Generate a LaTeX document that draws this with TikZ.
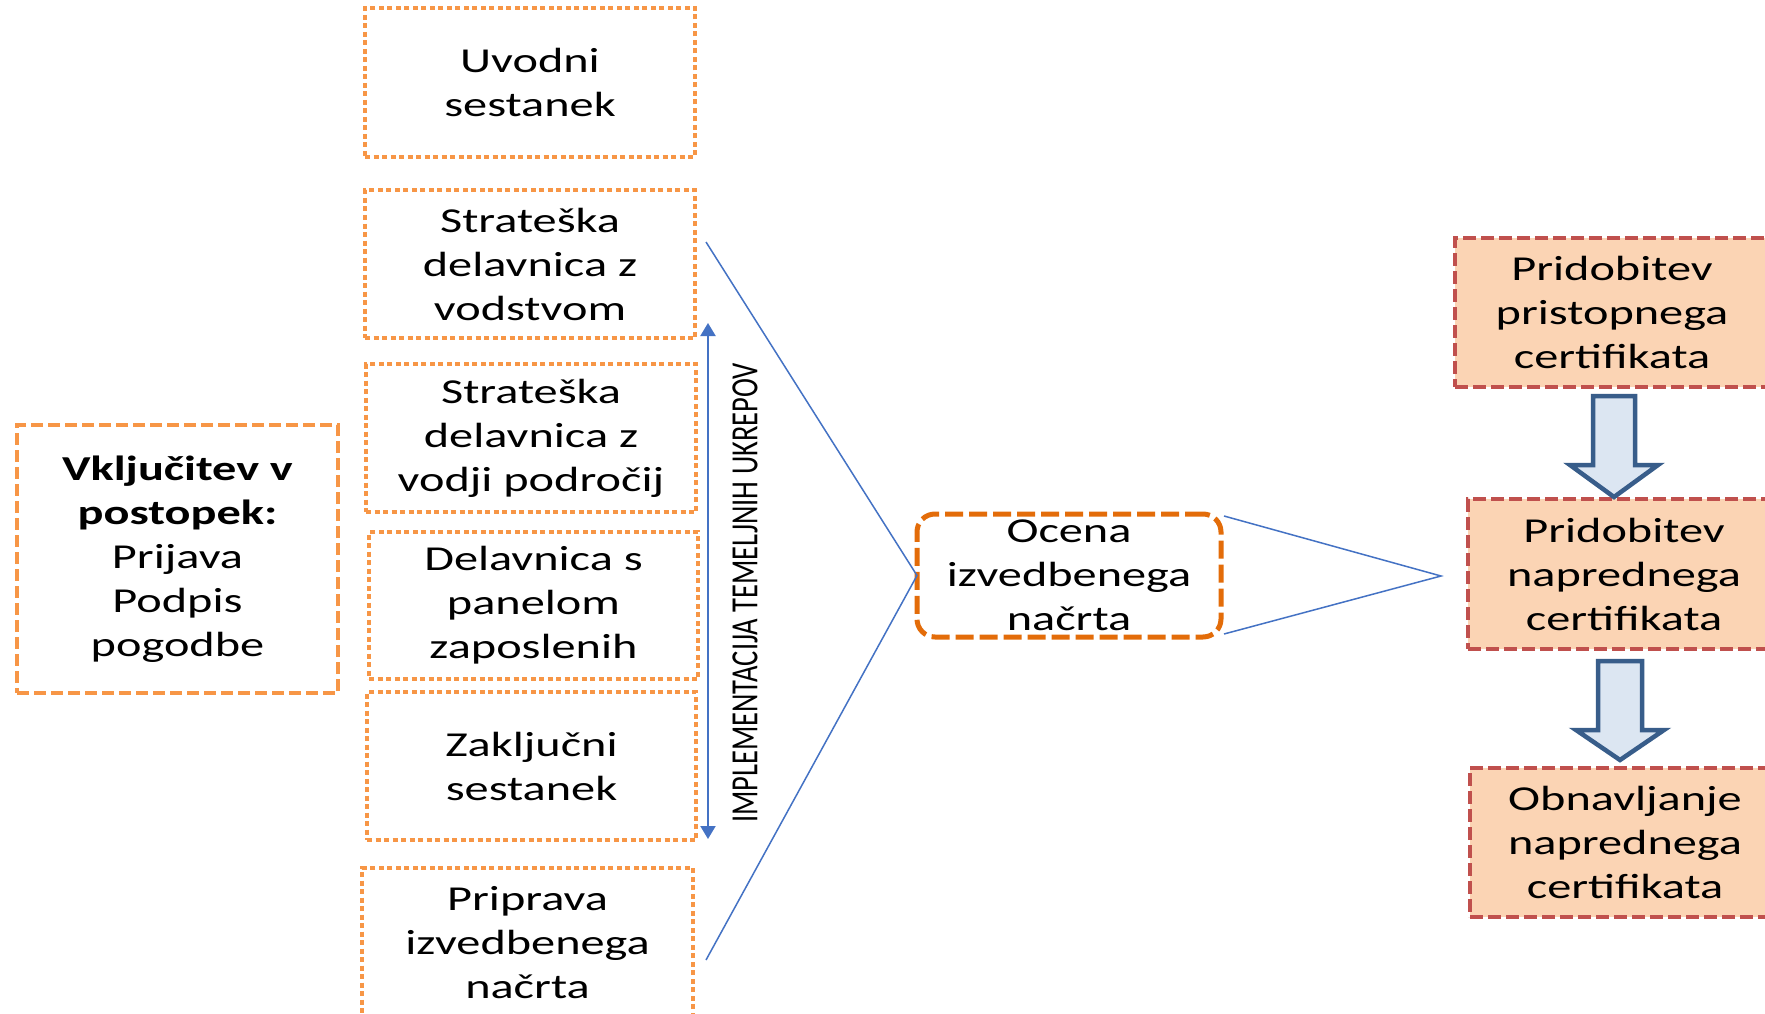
\documentclass[tikz,border=0pt]{standalone}
\usepackage{fontspec}
\usepackage{graphicx}
\setmainfont[FakeStretch=1.38]{Carlito}
\newfontfamily\plainfont{Carlito}
\usetikzlibrary{arrows.meta}
\definecolor{orng}{HTML}{F79646}
\definecolor{dorng}{HTML}{E36C09}
\definecolor{lblue}{HTML}{4472C4}
\definecolor{rred}{HTML}{C0504D}
\definecolor{peach}{HTML}{FBD4B4}
\definecolor{abfill}{HTML}{DCE6F2}
\definecolor{abline}{HTML}{385D8A}
\begin{document}
\begin{tikzpicture}[x=1pt,y=-1pt,
  txt/.style={font=\fontsize{35}{44}\selectfont, align=center, inner sep=0pt, outer sep=0pt, text=black},
  dotbox/.style={txt, draw=orng, line width=4.5pt, dash pattern=on 5pt off 3.5pt},
  dashbox/.style={txt, draw=orng, line width=4pt, dash pattern=on 12pt off 5pt},
  evalbox/.style={txt, draw=dorng, line width=5pt, dash pattern=on 18pt off 6pt, rounded corners=18pt},
  certbox/.style={txt, draw=rred, fill=peach, line width=3.5pt, dash pattern=on 13pt off 5pt},
  conn/.style={draw=lblue, line width=1.5pt},
  blockarrow/.style={draw=abline, fill=abfill, line width=4.5pt, line join=miter},
]
\fill[white] (0,0) rectangle (1765,1014);
\useasboundingbox (0,0) rectangle (1765,1014);
\clip (0,0) rectangle (1765,1014);

% left box
\node[dashbox, minimum width=321, minimum height=268] (L) at (177.5,559)
  {\textbf{Vključitev v}\\\textbf{postopek:}\\Prijava\\Podpis\\pogodbe};

% middle column
\node[dotbox, minimum width=330, minimum height=149] (b1) at (530,82.5) {Uvodni\\sestanek};
\node[dotbox, minimum width=330, minimum height=148] (b2) at (530,264) {Strateška\\delavnica z\\vodstvom};
\node[dotbox, minimum width=330, minimum height=148] (b3) at (531,438) {Strateška\\delavnica z\\vodji področij};
\node[dotbox, minimum width=329, minimum height=147] (b4) at (533.5,605.5) {Delavnica s\\panelom\\zaposlenih};
\node[dotbox, minimum width=329, minimum height=148] (b5) at (531.5,766) {Zaključni\\sestanek};
\node[dotbox, minimum width=331, minimum height=150] (b6) at (527.5,943) {Priprava\\izvedbenega\\načrta};

% implementation arrow and label
\coordinate (ia) at (708,323);
\coordinate (ib) at (708,839);
\draw[lblue, line width=2pt, {Triangle[length=13pt,width=15pt]}-{Triangle[length=13pt,width=15pt]}] (ia) -- (ib);
\node[inner sep=0pt, rotate=90, text=black] (impl) at (745,593)
  {\plainfont\fontsize{28.5}{32}\selectfont\scalebox{1}[1.35]{IMPLEMENTACIJA TEMELJNIH UKREPOV}};

% evaluation box
\node[evalbox, minimum width=304, minimum height=123] (O) at (1069,575.5) {Ocena\\izvedbenega\\načrta};

% connectors
\coordinate (p1) at (706,242);
\coordinate (p2) at (706,960);
\draw[conn] (p1) -- (O.west) -- (p2);
\coordinate (q) at (1441,576);
\draw[conn] (1224,516) -- (q) -- (1224,634);

% certificate boxes
\node[certbox, minimum width=314, minimum height=149] (R1) at (1612,312.5) {Pridobitev\\pristopnega\\certifikata};
\node[certbox, minimum width=312, minimum height=150] (R2) at (1624,574) {Pridobitev\\naprednega\\certifikata};
\node[certbox, minimum width=310, minimum height=149] (R3) at (1625,842.5) {Obnavljanje\\naprednega\\certifikata};

% block arrows
\draw[blockarrow] (1593,396) -- (1635,396) -- (1635,465) -- (1658,465) -- (1614,497)
  -- (1570,465) -- (1593,465) -- cycle;
\draw[blockarrow] (1598,661) -- (1642,661) -- (1642,730) -- (1664,730) -- (1620,760)
  -- (1576,730) -- (1598,730) -- cycle;
\end{tikzpicture}
\end{document}
